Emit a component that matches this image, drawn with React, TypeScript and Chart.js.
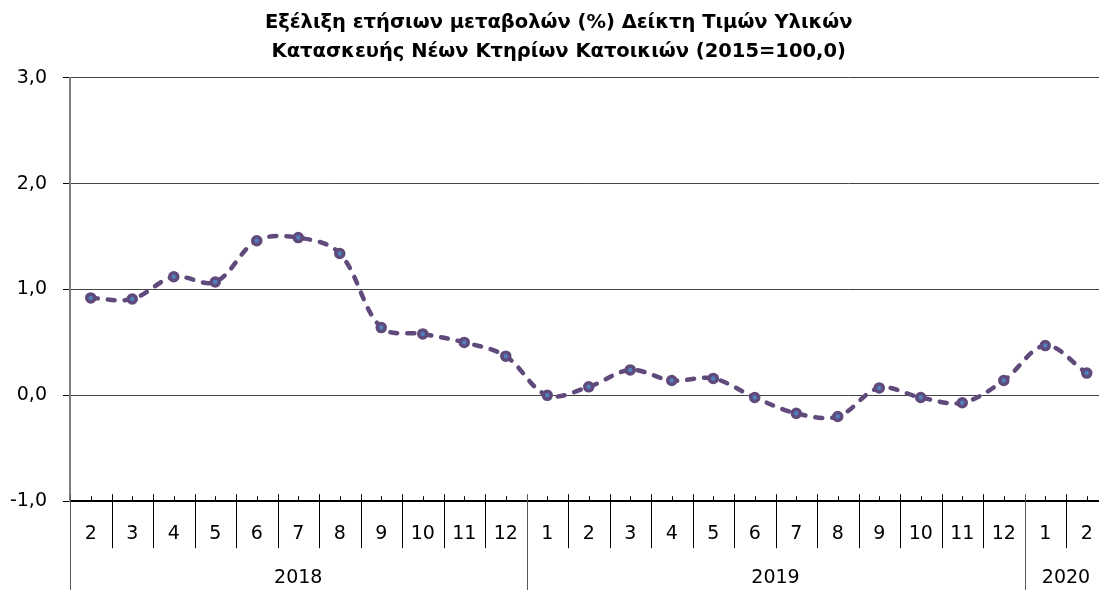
import React, { useEffect, useRef } from "react";
import { Chart, registerables } from "chart.js";

Chart.register(...registerables);

const months: string[] = ["2", "3", "4", "5", "6", "7", "8", "9", "10", "11", "12", "1", "2", "3", "4", "5", "6", "7", "8", "9", "10", "11", "12", "1", "2"];
const years: string[] = ["2018", "2019", "2020"];
const yearCounts: number[] = [11, 12, 2];
const annualChange: number[] = [0.92, 0.91, 1.12, 1.07, 1.46, 1.49, 1.34, 0.64, 0.58, 0.50, 0.37, 0.00, 0.08, 0.24, 0.14, 0.16, -0.02, -0.17, -0.20, 0.07, -0.02, -0.07, 0.14, 0.47, 0.21];
const titleLines: string[] = ["Εξέλιξη ετήσιων μεταβολών (%) Δείκτη Τιμών Υλικών", "Κατασκευής Νέων Κτηρίων Κατοικιών (2015=100,0)"];

const FONT = "'DejaVu Sans', sans-serif";

const axisDecor = {
  id: "axisDecor",
  afterDraw(chart: any) {
    const ctx = chart.ctx;
    const xs = chart.scales.x;
    const yb = chart.chartArea.bottom;
    const n = months.length;
    const bx = (i: number) => {
      if (i <= 0) return xs.left;
      if (i >= n) return xs.right;
      return (xs.getPixelForValue(i - 1) + xs.getPixelForValue(i)) / 2;
    };
    const yearBounds: number[] = [0];
    yearCounts.forEach((c) => yearBounds.push(yearBounds[yearBounds.length - 1] + c));
    ctx.save();
    ctx.lineWidth = 1;
    for (let i = 0; i <= n; i++) {
      const px = Math.round(bx(i)) + 0.5;
      const isYear = yearBounds.indexOf(i) >= 0;
      ctx.beginPath();
      ctx.moveTo(px, yb - 7);
      ctx.lineTo(px, isYear ? chart.height : yb + 47);
      ctx.strokeStyle = isYear ? "#555" : "#000";
      ctx.stroke();
    }
    ctx.strokeStyle = "#000";
    for (let i = 0; i < n; i++) {
      const px = Math.round(xs.getPixelForValue(i)) + 0.5;
      ctx.beginPath();
      ctx.moveTo(px, yb - 5);
      ctx.lineTo(px, yb);
      ctx.stroke();
    }
    ctx.fillStyle = "#000";
    ctx.font = `19px ${FONT}`;
    ctx.textAlign = "center";
    ctx.textBaseline = "middle";
    years.forEach((yr, k) => {
      const cx = (bx(yearBounds[k]) + bx(yearBounds[k + 1])) / 2;
      ctx.fillText(yr, cx, 578);
    });
    ctx.restore();
  },
};

export default function App() {
  const ref = useRef<HTMLCanvasElement | null>(null);
  useEffect(() => {
    if (!ref.current) return;
    const chart = new Chart(ref.current, {
      type: "line",
      data: {
        labels: months,
        datasets: [
          {
            data: annualChange,
            borderColor: "#604A7B",
            borderWidth: 4.5,
            borderDash: [7, 10],
            borderCapStyle: "round",
            tension: 0.35,
            pointRadius: 4,
            pointBorderWidth: 3.5,
            pointBackgroundColor: "#4F81BD",
            pointBorderColor: "#604A7B",
            fill: false,
          },
        ],
      },
      options: {
        responsive: false,
        animation: false,
        devicePixelRatio: 1,
        layout: { padding: { left: 10, right: 14.5, bottom: 24, top: 0 } },
        plugins: {
          legend: { display: false },
          tooltip: { enabled: false },
          title: {
            display: true,
            text: titleLines,
            color: "#000",
            font: { family: FONT, size: 19.5, weight: "bold", lineHeight: 1.48 },
            padding: { top: 9, bottom: 11 },
          },
        },
        scales: {
          x: {
            type: "category",
            offset: true,
            grid: { display: false, drawTicks: false },
            border: { display: true, color: "#000", width: 2 },
            ticks: {
              color: "#000",
              font: { family: FONT, size: 19 },
              padding: 21,
              maxRotation: 0,
              autoSkip: false,
            },
          },
          y: {
            min: -1,
            max: 3,
            afterFit: (s: any) => {
              s.width = 60;
            },
            ticks: {
              stepSize: 1,
              color: "#000",
              font: { family: FONT, size: 19 },
              padding: 16,
              callback: (v: any) => Number(v).toFixed(1).replace(".", ","),
            },
            grid: { color: "#444", lineWidth: 1, drawTicks: true, tickLength: 7, tickColor: "#000" },
            border: { display: true, color: "#7f7f7f", width: 2 },
          },
        },
      },
      plugins: [axisDecor],
    });
    return () => chart.destroy();
  }, []);
  return (
    <div style={{ position: "fixed", left: 0, top: 0, width: 1099, height: 590, overflow: "hidden", background: "#fff" }}>
      <canvas ref={ref} width={1122} height={590} style={{ width: 1122, height: 590, display: "block" }} />
    </div>
  );
}
